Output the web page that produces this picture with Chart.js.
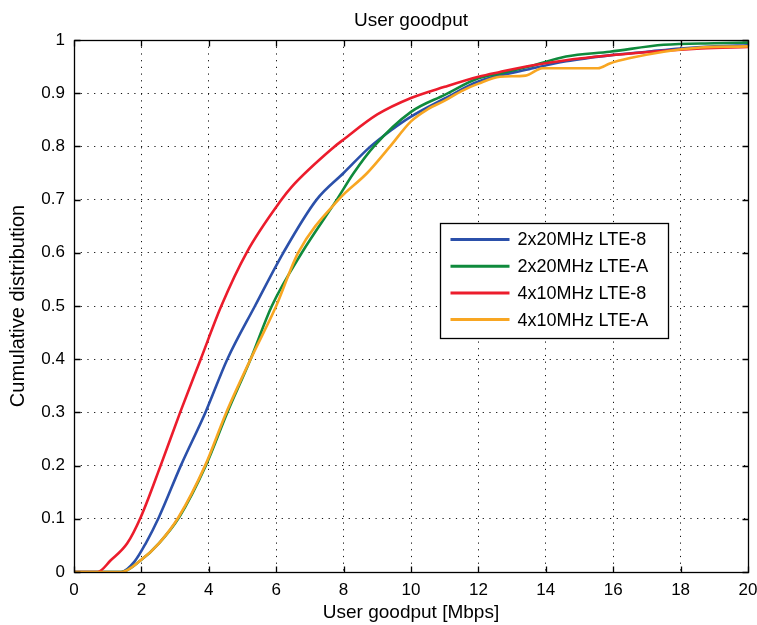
<!DOCTYPE html>
<html>
<head>
<meta charset="utf-8">
<title>User goodput</title>
<script src="https://cdn.jsdelivr.net/npm/chart.js@4.4.0/dist/chart.umd.min.js"></script>
<style>
  html, body { margin: 0; padding: 0; background: #fff; }
  #wrap { width: 757px; height: 625px; }
</style>
</head>
<body>
<div id="wrap"><canvas id="cdfChart" width="757" height="625"></canvas></div>
<script>
// --- Data (x = goodput in Mbps, y = CDF) ---
const chartTitle = 'User goodput';
const xAxisTitle = 'User goodput [Mbps]';
const yAxisTitle = 'Cumulative distribution';

const xTicks = [0, 2, 4, 6, 8, 10, 12, 14, 16, 18, 20];
const yTicks = [0, 0.1, 0.2, 0.3, 0.4, 0.5, 0.6, 0.7, 0.8, 0.9, 1];

const seriesLabels = ['2x20MHz LTE-8', '2x20MHz LTE-A', '4x10MHz LTE-8', '4x10MHz LTE-A'];
const seriesColors = ['#2b50aa', '#0f8a3c', '#ec1c2c', '#f8a622'];

const blueX  = [0, 1.4, 1.8, 2.13, 2.52, 3.17, 3.9, 4.55, 5.37, 6.21, 7.2, 8.0, 8.8, 9.4, 10, 11, 12, 13.5, 14.6, 16, 17, 18, 19, 20];
const blueY  = [0, 0, 0.02, 0.054, 0.103, 0.2, 0.3, 0.4, 0.5, 0.6, 0.7, 0.75, 0.8, 0.83, 0.856, 0.89, 0.922, 0.945, 0.96, 0.972, 0.978, 0.984, 0.988, 0.99];

const greenX = [0, 1.4, 1.98, 2.52, 3.12, 3.91, 4.55, 5.24, 5.87, 6.76, 7.8, 8.29, 8.9, 10, 11, 12, 12.64, 13.5, 14.6, 15.9, 17.5, 19, 20];
const greenY = [0, 0, 0.022, 0.054, 0.103, 0.2, 0.3, 0.4, 0.5, 0.6, 0.7, 0.749, 0.8, 0.865, 0.897, 0.928, 0.937, 0.95, 0.969, 0.978, 0.991, 0.994, 0.995];

const redX   = [0, 0.7, 1.09, 1.58, 1.98, 2.57, 3.15, 3.76, 4.37, 5.12, 6.16, 6.46, 7.7, 8.0, 9.0, 10, 11, 12, 12.64, 13.5, 14.6, 16.6, 18.6, 20];
const redY   = [0, 0, 0.022, 0.054, 0.103, 0.2, 0.3, 0.4, 0.5, 0.6, 0.7, 0.724, 0.798, 0.813, 0.86, 0.891, 0.912, 0.931, 0.94, 0.951, 0.962, 0.975, 0.984, 0.987];

const orangeX = [0, 1.4, 1.98, 2.52, 3.1, 3.89, 4.52, 5.24, 6.0, 6.65, 7.85, 8.7, 9.38, 10, 10.5, 11, 11.5, 12, 12.64, 13.4, 13.9, 15.55, 15.9, 16.5, 17.5, 18.6, 20];
const orangeY = [0, 0, 0.022, 0.054, 0.103, 0.2, 0.3, 0.4, 0.5, 0.6, 0.7, 0.75, 0.8, 0.847, 0.87, 0.886, 0.904, 0.918, 0.931, 0.933, 0.947, 0.947, 0.956, 0.966, 0.978, 0.986, 0.988];

const seriesX = [blueX, greenX, redX, orangeX];
const seriesY = [blueY, greenY, redY, orangeY];

document.addEventListener('DOMContentLoaded', () => {
    if (typeof Chart === 'undefined') {
        console.error('Chart.js library is not loaded.');
        return;
    }

    const FONT = '"Liberation Sans", Arial, Helvetica, sans-serif';

    // --- MATLAB look: boxed axes, inward ticks, title and inset legend ---
    const matlabAxes = {
        id: 'matlabAxes',
        afterDraw(chart) {
            const { ctx, chartArea: a, scales: { x, y } } = chart;
            const L = Math.round(a.left) + 0.5, R = Math.round(a.right) + 0.5;
            const T = Math.round(a.top) + 0.5, B = Math.round(a.bottom) + 0.5;
            const tick = 6;

            ctx.save();
            ctx.strokeStyle = '#000';
            ctx.lineWidth = 1.3;
            ctx.strokeRect(L, T, R - L, B - T);

            ctx.beginPath();
            xTicks.forEach(v => {
                const px = Math.round(x.getPixelForValue(v)) + 0.5;
                ctx.moveTo(px, B); ctx.lineTo(px, B - tick);
                ctx.moveTo(px, T); ctx.lineTo(px, T + tick);
            });
            yTicks.forEach(v => {
                const py = Math.round(y.getPixelForValue(v)) + 0.5;
                ctx.moveTo(L, py); ctx.lineTo(L + tick, py);
                ctx.moveTo(R, py); ctx.lineTo(R - tick, py);
            });
            ctx.stroke();

            // title, centred over the axes
            ctx.fillStyle = '#000';
            ctx.font = '19px ' + FONT;
            ctx.textAlign = 'center';
            ctx.textBaseline = 'alphabetic';
            ctx.fillText(chartTitle, (a.left + a.right) / 2, 26);

            // legend box inside the plot
            const bw = 228, bh = 115;
            const bx = Math.round(a.right - 80 - bw) + 0.5;
            const by = Math.round(a.top + 183) + 0.5;
            ctx.fillStyle = '#fff';
            ctx.fillRect(bx, by, bw, bh);
            ctx.lineWidth = 1.3;
            ctx.strokeStyle = '#000';
            ctx.strokeRect(bx, by, bw, bh);

            ctx.font = '18px ' + FONT;
            ctx.textAlign = 'left';
            ctx.textBaseline = 'middle';
            chart.data.datasets.forEach((ds, i) => {
                const ry = by + 16 + i * 26.7;
                ctx.strokeStyle = ds.borderColor;
                ctx.lineWidth = 3;
                ctx.beginPath();
                ctx.moveTo(bx + 10, ry);
                ctx.lineTo(bx + 69, ry);
                ctx.stroke();
                ctx.fillStyle = '#000';
                ctx.fillText(ds.label, bx + 77, ry + 1);
            });
            ctx.restore();
        }
    };

    const datasets = seriesLabels.map((label, i) => ({
        label: label,
        data: seriesX[i].map((v, k) => ({ x: v, y: seriesY[i][k] })),
        borderColor: seriesColors[i],
        backgroundColor: seriesColors[i],
        borderWidth: 2.6,
        pointRadius: 0,
        cubicInterpolationMode: 'monotone',
        fill: false,
        order: seriesLabels.length - i   // later series drawn on top
    }));

    const ctx = document.getElementById('cdfChart').getContext('2d');
    new Chart(ctx, {
        type: 'line',
        data: { datasets },
        options: {
            responsive: false,
            animation: false,
            layout: { padding: { top: 40, right: 0, bottom: 0, left: 0 } },
            plugins: {
                legend: { display: false },
                title: { display: false },
                tooltip: { enabled: false }
            },
            scales: {
                x: {
                    type: 'linear',
                    min: 0,
                    max: 20,
                    afterBuildTicks: s => { s.ticks = xTicks.map(v => ({ value: v })); },
                    afterFit: s => { s.height = 53; s.paddingRight = 9; s.paddingLeft = 5; },
                    grid: { color: '#111', lineWidth: 1, drawTicks: false },
                    border: { display: false, dash: [1.2, 5.5] },
                    ticks: {
                        color: '#000',
                        font: { family: FONT, size: 17 },
                        padding: 8,
                        maxRotation: 0,
                        autoSkip: false,
                        callback: v => String(v)
                    },
                    title: {
                        display: true,
                        text: xAxisTitle,
                        color: '#000',
                        font: { family: FONT, size: 19 },
                        padding: { top: 0, bottom: 1 }
                    }
                },
                y: {
                    min: 0,
                    max: 1,
                    afterBuildTicks: s => { s.ticks = yTicks.map(v => ({ value: v })); },
                    afterFit: s => { s.width = 74; },
                    grid: { color: '#111', lineWidth: 1, drawTicks: false },
                    border: { display: false, dash: [1.2, 5.5] },
                    ticks: {
                        color: '#000',
                        font: { family: FONT, size: 17 },
                        padding: 9,
                        autoSkip: false,
                        callback: v => String(v)
                    },
                    title: {
                        display: true,
                        text: yAxisTitle,
                        color: '#000',
                        font: { family: FONT, size: 20 },
                        padding: { top: 6, bottom: 0 }
                    }
                }
            }
        },
        plugins: [matlabAxes]
    });
});
</script>
</body>
</html>
